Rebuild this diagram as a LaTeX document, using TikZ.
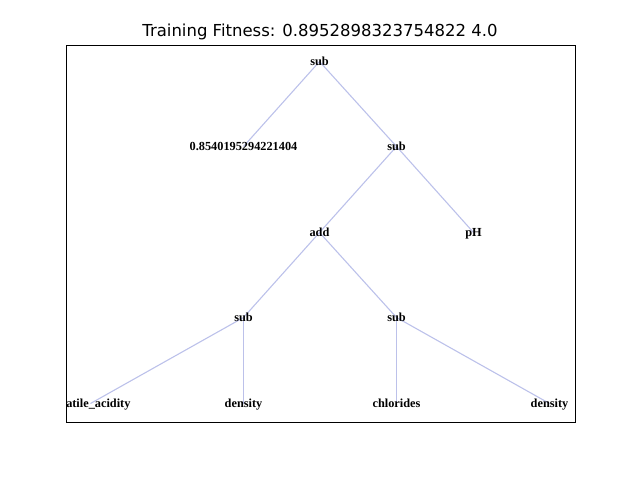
\documentclass[tikz,border=0pt]{standalone}
\usepackage{fontspec}
\setmainfont{Liberation Serif}
\newfontfamily\titlefont{DejaVu Sans}
\definecolor{edgecol}{RGB}{188,193,234}
\tikzset{
  tn/.style={inner sep=0pt, anchor=base, font=\fontsize{12.3bp}{14bp}\selectfont\bfseries},
  edge/.style={draw=edgecol, line width=1.1bp},
  frame/.style={draw=black, line width=0.95bp}
}
\begin{document}
\begin{tikzpicture}[x=1bp,y=-1bp]
\useasboundingbox (0,0) rectangle (640,480);
\node[font=\titlefont\fontsize{16.5bp}{18bp}\selectfont, inner sep=0pt] (title) at (320,32) {Training Fitness: 0.8952898323754822 4.0};
\begin{scope}
\clip (66,45) rectangle (575,422);
\coordinate (r) at (319.5,61.5);
\coordinate (c1) at (243.5,146.5);
\coordinate (s1) at (396.5,146.5);
\coordinate (ad) at (319.5,232.5);
\coordinate (ph) at (473.5,232.5);
\coordinate (s2) at (243.5,317.5);
\coordinate (s3) at (396.5,317.5);
\coordinate (va) at (90.5,403.5);
\coordinate (d1) at (243.5,403.5);
\coordinate (cl) at (396.5,403.5);
\coordinate (d2) at (549.5,403.5);
\draw[edge] (r) -- (c1);
\draw[edge] (r) -- (s1);
\draw[edge] (s1) -- (ad);
\draw[edge] (s1) -- (ph);
\draw[edge] (ad) -- (s2);
\draw[edge] (ad) -- (s3);
\draw[edge] (s2) -- (va);
\draw[edge] (s2) -- (d1);
\draw[edge] (s3) -- (cl);
\draw[edge] (s3) -- (d2);
\node[tn] (nr) at ([yshift=-4bp]r) {sub};
\node[tn] (nc1) at ([yshift=-4bp]c1) {0.8540195294221404};
\node[tn] (ns1) at ([yshift=-4bp]s1) {sub};
\node[tn] (nad) at ([yshift=-4bp]ad) {add};
\node[tn] (nph) at ([yshift=-4bp]ph) {pH};
\node[tn] (ns2) at ([yshift=-4bp]s2) {sub};
\node[tn] (ns3) at ([yshift=-4bp]s3) {sub};
\node[tn] (nva) at ([yshift=-4bp]va) {volatile\_acidity};
\node[tn] (nd1) at ([yshift=-4bp]d1) {density};
\node[tn] (ncl) at ([yshift=-4bp]cl) {chlorides};
\node[tn] (nd2) at ([yshift=-4bp]d2) {density};
\end{scope}
\draw[frame] (66,45) rectangle (575,422);
\end{tikzpicture}
\end{document}
